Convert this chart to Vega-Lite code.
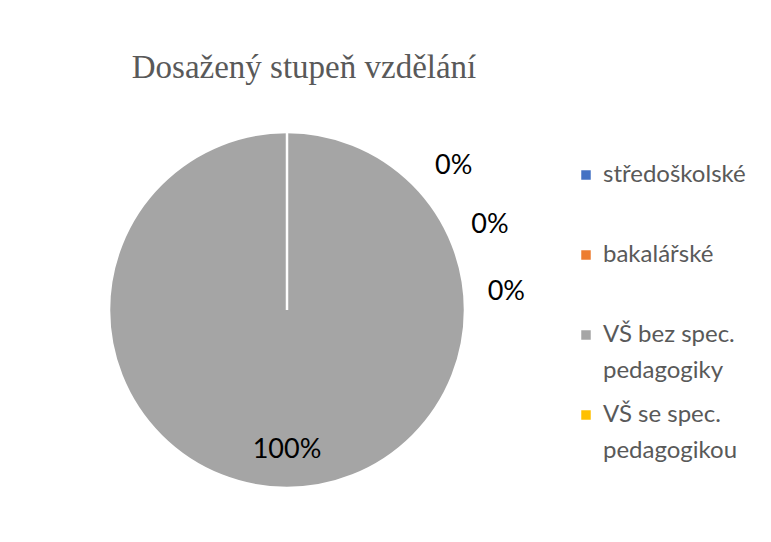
{
  "$schema": "https://vega.github.io/schema/vega-lite/v6.json",
  "width": 564,
  "height": 420,
  "padding": {"left": 5, "top": 52, "right": 0, "bottom": 0},
  "background": "white",
  "title": {
    "text": "Dosažený stupeň vzdělání",
    "font": "Liberation Serif",
    "fontSize": 33,
    "fontWeight": "normal",
    "color": "#595959",
    "anchor": "middle",
    "dx": 17,
    "offset": 15
  },
  "data": {
    "values": [
      {"category": "středoškolské", "value": 0},
      {"category": "bakalářské", "value": 0},
      {"category": "VŠ bez spec. pedagogiky", "value": 1},
      {"category": "VŠ se spec. pedagogikou", "value": 0}
    ]
  },
  "layer": [
    {
      "mark": {"type": "arc", "outerRadius": 178, "stroke": "white", "strokeWidth": 2.5},
      "encoding": {
        "theta": {"field": "value", "type": "quantitative", "stack": true},
        "order": {"field": "category", "sort": "ascending"},
        "color": {
          "field": "category",
          "type": "nominal",
          "sort": null,
          "scale": {
            "domain": ["středoškolské", "bakalářské", "VŠ bez spec. pedagogiky", "VŠ se spec. pedagogikou"],
            "range": ["#4472C4", "#ED7D31", "#A5A5A5", "#FFC000"]
          },
          "legend": {
            "orient": "none",
            "legendX": 569,
            "legendY": 63,
            "title": null,
            "symbolType": "square",
            "symbolSize": 90,
            "symbolStrokeWidth": 0,
            "labelFont": "Lato",
            "labelFontSize": 24,
            "labelColor": "#595959",
            "labelOffset": 5,
            "labelLimit": 300,
            "gridAlign": "all",
            "rowPadding": 20,
            "labelExpr": "indexof(datum.label, 'spec. ') > 0 ? [substring(datum.label, 0, indexof(datum.label, 'spec. ') + 5), substring(datum.label, indexof(datum.label, 'spec. ') + 6)] : datum.label",
            "encode": {"labels": {"update": {"lineHeight": {"value": 36}}}}
          }
        }
      }
    },
    {
      "transform": [
        {"filter": "datum.value == 0"},
        {"window": [{"op": "row_number", "as": "slot"}]}
      ],
      "mark": {"type": "text", "radius": 220, "font": "Lato", "fontSize": 27, "color": "#000000"},
      "encoding": {
        "theta": {
          "field": "slot",
          "type": "quantitative",
          "stack": null,
          "scale": {"domain": [1, 3], "range": [0.86, 1.49]}
        },
        "text": {"field": "value", "type": "quantitative", "format": ".0%"}
      }
    },
    {
      "transform": [{"filter": "datum.value > 0"}],
      "mark": {"type": "text", "radius": 140, "font": "Lato", "fontSize": 27, "color": "#000000"},
      "encoding": {
        "theta": {"field": "value", "type": "quantitative", "stack": true},
        "text": {"field": "value", "type": "quantitative", "format": ".0%"}
      }
    }
  ],
  "resolve": {"scale": {"theta": "independent"}},
  "config": {
    "view": {"stroke": null},
    "style": {"guide-label": {"lineHeight": 36}}
  }
}
